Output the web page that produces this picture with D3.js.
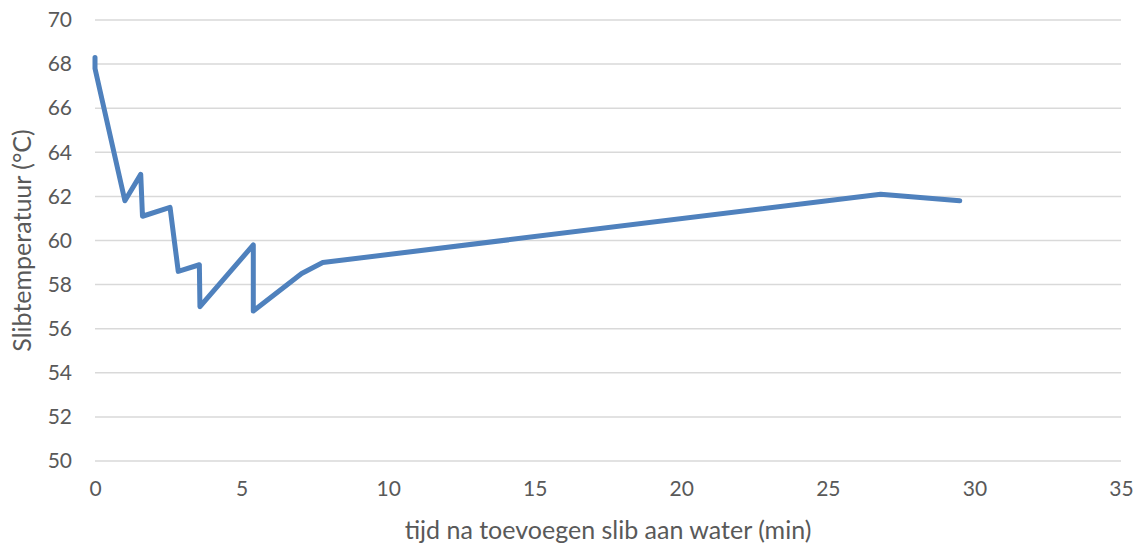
<!DOCTYPE html>
<html>
<head>
<meta charset="utf-8">
<script src="https://cdn.jsdelivr.net/npm/d3@7"></script>
<style>
  html, body { margin: 0; padding: 0; background: #fff; }
  svg { display: block; }
  text { font-family: Lato, "Open Sans", sans-serif; fill: #595959; }
</style>
</head>
<body>
<svg id="chart" width="1140" height="546"></svg>
<script>
// Sludge temperature over time after adding sludge to water
const timeMin = [0, 0, 1.02, 1.56, 1.62, 2.56, 2.84, 3.56, 3.58, 5.40, 5.40, 7.05, 7.77, 26.8, 29.5];
const tempC   = [68.3, 67.8, 61.8, 63.0, 61.1, 61.5, 58.6, 58.9, 57.0, 59.8, 56.8, 58.5, 59.0, 62.1, 61.8];

const xTicks = [0, 5, 10, 15, 20, 25, 30, 35];
const yTicks = [50, 52, 54, 56, 58, 60, 62, 64, 66, 68, 70];

const xTitle = "tijd na toevoegen slib aan water (min)";
const yTitle = "Slibtemperatuur (°C)";

const svg = d3.select("#chart");
const plotLeft = 95, plotRight = 1121, plotTop = 20, plotBottom = 461;

const x = d3.scaleLinear().domain([0, 35]).range([plotLeft, plotRight]);
const y = d3.scaleLinear().domain([50, 70]).range([plotBottom, plotTop]);

// horizontal gridlines
svg.append("g")
  .selectAll("line")
  .data(yTicks)
  .join("line")
  .attr("x1", plotLeft).attr("x2", plotRight)
  .attr("y1", d => y(d)).attr("y2", d => y(d))
  .attr("stroke", "#d9d9d9")
  .attr("stroke-width", 1.5);

// y axis labels
const yAxis = svg.append("g")
  .attr("transform", `translate(${plotLeft - 23},0)`)
  .call(d3.axisLeft(y).tickValues(yTicks).tickSize(0).tickPadding(0));
yAxis.select(".domain").remove();
yAxis.selectAll("text")
  .attr("font-size", 21)
  .attr("fill", "#595959");

// x axis labels
const xAxis = svg.append("g")
  .attr("transform", `translate(0,${plotBottom + 20})`)
  .call(d3.axisBottom(x).tickValues(xTicks).tickSize(0).tickPadding(0));
xAxis.select(".domain").remove();
xAxis.selectAll("text")
  .attr("font-size", 21)
  .attr("fill", "#595959");

// axis titles
svg.append("text")
  .attr("x", (plotLeft + plotRight) / 2)
  .attr("y", 539)
  .attr("text-anchor", "middle")
  .attr("font-size", 25)
  .text(xTitle);

svg.append("text")
  .attr("transform", `translate(31,${(plotTop + plotBottom) / 2}) rotate(-90)`)
  .attr("text-anchor", "middle")
  .attr("font-size", 25)
  .text(yTitle);

// temperature line
const line = d3.line()
  .x((d, i) => x(timeMin[i]))
  .y(d => y(d));

svg.append("path")
  .datum(tempC)
  .attr("d", line)
  .attr("fill", "none")
  .attr("stroke", "#4F81BD")
  .attr("stroke-width", 5)
  .attr("stroke-linejoin", "round")
  .attr("stroke-linecap", "round");
</script>
</body>
</html>
